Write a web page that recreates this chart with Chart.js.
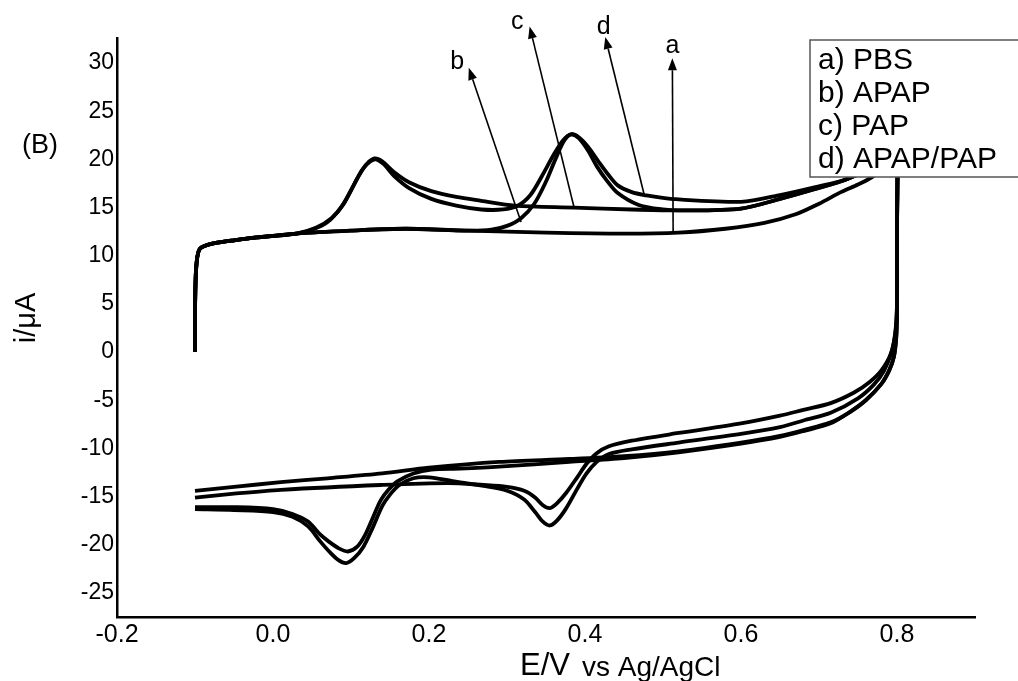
<!DOCTYPE html>
<html>
<head>
<meta charset="utf-8">
<title>Cyclic voltammograms</title>
<script src="https://cdn.jsdelivr.net/npm/chart.js@4.4.0/dist/chart.umd.min.js"></script>
<style>
    body { margin: 0; background: #fff; }
    #wrap { width: 1018px; height: 681px; position: relative; }
</style>
</head>
<body>
<div id="wrap"><canvas id="cvChart"></canvas></div>
<script>
// Axis ticks
const xTickValues = [-0.2, 0.0, 0.2, 0.4, 0.6, 0.8];
const xTickLabels = ['-0.2', '0.0', '0.2', '0.4', '0.6', '0.8'];
const yTickValues = [-25, -20, -15, -10, -5, 0, 5, 10, 15, 20, 25, 30];

// a) PBS - potential (V) and current (uA), forward then reverse scan
const pbsE = [-0.100, -0.100, -0.099, -0.097, -0.094, -0.088, -0.075, -0.050, -0.020, 0.030, 0.100, 0.170, 0.250, 0.350, 0.450, 0.520, 0.580, 0.630, 0.670, 0.700, 0.728, 0.750, 0.767, 0.785, 0.795, 0.800,
    0.800, 0.800, 0.799, 0.796, 0.790, 0.780, 0.760, 0.740, 0.715, 0.680, 0.650, 0.600, 0.520, 0.450, 0.380, 0.290, 0.200, 0.140, 0.070, 0.010, -0.050, -0.100];
const pbsI = [0.0, 4.0, 8.0, 9.9, 10.7, 11.0, 11.3, 11.6, 11.9, 12.3, 12.6, 12.8, 12.6, 12.4, 12.3, 12.4, 12.8, 13.4, 14.3, 15.4, 16.6, 17.4, 18.1, 19.3, 21.0, 25.0,
    12.0, 4.0, 1.5, -0.5, -1.9, -3.3, -5.0, -6.2, -7.3, -8.1, -8.7, -9.4, -10.3, -10.8, -11.1, -11.4, -12.0, -12.6, -13.1, -13.5, -14.0, -14.4];

// b) APAP
const apapE = [-0.100, -0.100, -0.099, -0.097, -0.094, -0.088, -0.075, -0.050, -0.020, 0.030, 0.100, 0.170, 0.250, 0.280, 0.300, 0.318, 0.335, 0.350, 0.362, 0.373, 0.382, 0.392, 0.404, 0.415, 0.428, 0.442, 0.468, 0.500, 0.523, 0.600, 0.650, 0.694, 0.737, 0.770, 0.790, 0.800,
    0.800, 0.800, 0.798, 0.792, 0.780, 0.765, 0.745, 0.715, 0.680, 0.650, 0.600, 0.520, 0.460, 0.430, 0.415, 0.402, 0.390, 0.376, 0.364, 0.355, 0.346, 0.336, 0.322, 0.300, 0.270, 0.224, 0.138, 0.010, -0.050, -0.100];
const apapI = [0.0, 4.0, 8.0, 9.9, 10.7, 11.0, 11.3, 11.6, 11.9, 12.3, 12.6, 12.8, 12.6, 12.7, 13.1, 13.9, 15.4, 17.7, 20.0, 21.9, 22.6, 22.2, 20.9, 19.3, 17.8, 16.5, 15.3, 14.8, 14.7, 14.9, 15.9, 16.9, 18.0, 19.4, 21.5, 25.0,
    12.0, 5.0, 2.0, -0.2, -1.9, -3.1, -4.2, -5.3, -6.0, -6.6, -7.4, -8.4, -9.2, -9.8, -10.5, -11.6, -13.0, -14.6, -15.7, -16.2, -15.9, -15.1, -14.4, -14.0, -13.8, -13.6, -13.8, -14.3, -14.7, -15.1];

// c) PAP
const papE = [-0.100, -0.100, -0.099, -0.097, -0.094, -0.088, -0.075, -0.050, -0.020, 0.030, 0.050, 0.070, 0.087, 0.100, 0.110, 0.120, 0.130, 0.140, 0.155, 0.175, 0.203, 0.235, 0.267, 0.310, 0.386, 0.460, 0.523, 0.600, 0.650, 0.694, 0.737, 0.770, 0.790, 0.800,
    0.800, 0.800, 0.799, 0.796, 0.790, 0.780, 0.760, 0.740, 0.715, 0.680, 0.650, 0.600, 0.520, 0.450, 0.380, 0.290, 0.240, 0.203, 0.180, 0.160, 0.148, 0.138, 0.128, 0.118, 0.108, 0.096, 0.085, 0.072, 0.060, 0.045, 0.025, 0.000, -0.050, -0.100];
const papI = [0.0, 4.0, 8.0, 9.9, 10.7, 11.0, 11.3, 11.6, 11.9, 12.3, 12.7, 13.5, 15.0, 16.8, 18.3, 19.5, 20.1, 19.8, 18.7, 17.6, 16.7, 16.1, 15.7, 15.2, 15.0, 14.8, 14.7, 14.9, 15.9, 16.9, 18.0, 19.4, 21.5, 25.0,
    12.0, 4.0, 1.5, -0.5, -1.9, -3.3, -5.0, -6.2, -7.4, -8.2, -8.8, -9.5, -10.4, -11.0, -11.4, -11.9, -12.1, -12.2, -12.6, -13.4, -14.3, -15.4, -17.2, -19.0, -20.2, -20.7, -20.4, -19.7, -18.9, -17.6, -16.8, -16.3, -16.1, -16.1];

// d) APAP/PAP
const mixE = [-0.100, -0.100, -0.099, -0.097, -0.094, -0.088, -0.075, -0.050, -0.020, 0.030, 0.055, 0.075, 0.090, 0.104, 0.115, 0.125, 0.132, 0.142, 0.155, 0.175, 0.203, 0.235, 0.267, 0.295, 0.314, 0.330, 0.345, 0.360, 0.372, 0.382, 0.392, 0.404, 0.418, 0.430, 0.442, 0.460, 0.476, 0.510, 0.600, 0.650, 0.694, 0.737, 0.770, 0.790, 0.800,
    0.800, 0.800, 0.798, 0.793, 0.783, 0.770, 0.750, 0.715, 0.680, 0.650, 0.600, 0.520, 0.460, 0.430, 0.415, 0.402, 0.390, 0.376, 0.364, 0.355, 0.346, 0.336, 0.322, 0.300, 0.270, 0.230, 0.200, 0.180, 0.162, 0.150, 0.140, 0.128, 0.116, 0.104, 0.094, 0.084, 0.072, 0.060, 0.045, 0.025, 0.000, -0.050, -0.100];
const mixI = [0.0, 4.0, 8.0, 9.9, 10.7, 11.0, 11.3, 11.6, 11.9, 12.3, 12.9, 13.9, 15.3, 17.4, 19.0, 19.8, 20.0, 19.5, 18.3, 17.0, 15.9, 15.2, 14.8, 14.8, 15.2, 16.3, 18.3, 20.5, 22.0, 22.6, 22.3, 21.3, 19.7, 18.4, 17.3, 16.6, 16.3, 15.9, 15.6, 16.3, 17.1, 18.0, 19.5, 21.6, 25.0,
    12.0, 5.0, 2.2, 0.0, -2.0, -3.4, -4.8, -6.3, -7.1, -7.8, -8.5, -9.4, -10.1, -10.6, -11.4, -12.6, -14.2, -16.2, -17.5, -18.0, -17.6, -16.6, -15.3, -14.4, -13.9, -13.4, -13.0, -13.1, -13.8, -14.8, -16.0, -18.2, -20.2, -21.4, -21.9, -21.6, -20.7, -19.6, -18.1, -17.1, -16.6, -16.4, -16.3];

// Curve labels and the arrows pointing at them (data coordinates)
const seriesNames = ['a) PBS', 'b) APAP', 'c) PAP', 'd) APAP/PAP'];
const arrowLetters = ['a', 'b', 'c', 'd'];
const arrowTailE = [0.513, 0.318, 0.386, 0.476];
const arrowTailI = [12.4, 13.5, 15.0, 16.3];
const arrowHeadE = [0.512, 0.251, 0.329, 0.426];
const arrowHeadI = [30.5, 29.5, 33.8, 32.7];
const letterE = [0.512, 0.236, 0.313, 0.424];
const letterI = [31.8, 30.1, 34.2, 33.7];

const FONT = "'Liberation Sans', Arial, sans-serif";
Chart.defaults.font.family = FONT;
Chart.defaults.color = '#000';

function toPoints(es, is) {
    return es.map((e, i) => ({ x: e, y: is[i] }));
}

function curve(label, es, is) {
    return {
        label: label,
        data: toPoints(es, is),
        showLine: true,
        borderColor: '#000',
        borderWidth: 3.8,
        pointRadius: 0,
        tension: 0.3,
        fill: false
    };
}

function drawArrow(ctx, x0, y0, x1, y1) {
    const ang = Math.atan2(y1 - y0, x1 - x0);
    const len = 12, half = 4.5;
    const bx = x1 - len * Math.cos(ang), by = y1 - len * Math.sin(ang);
    ctx.beginPath();
    ctx.moveTo(x0, y0);
    ctx.lineTo(bx, by);
    ctx.stroke();
    ctx.beginPath();
    ctx.moveTo(x1, y1);
    ctx.lineTo(bx + half * Math.sin(ang), by - half * Math.cos(ang));
    ctx.lineTo(bx - half * Math.sin(ang), by + half * Math.cos(ang));
    ctx.closePath();
    ctx.fill();
}

// Arrows, legend box and axis titles
const decorations = {
    id: 'decorations',
    afterDatasetsDraw(chart) {
        const { ctx, chartArea, scales: { x, y } } = chart;
        ctx.save();
        ctx.strokeStyle = '#000';
        ctx.fillStyle = '#000';
        ctx.lineWidth = 1.6;

        arrowLetters.forEach((letter, i) => {
            drawArrow(ctx,
                x.getPixelForValue(arrowTailE[i]), y.getPixelForValue(arrowTailI[i]),
                x.getPixelForValue(arrowHeadE[i]), y.getPixelForValue(arrowHeadI[i]));
            ctx.font = '25px ' + FONT;
            ctx.textAlign = 'center';
            ctx.textBaseline = 'middle';
            ctx.fillText(letter, x.getPixelForValue(letterE[i]), y.getPixelForValue(letterI[i]));
        });

        // legend box, open to the right edge
        const lx = 810, ly = chartArea.top + 2, lh = 137;
        ctx.fillStyle = '#fff';
        ctx.fillRect(lx, ly, chart.width - lx + 10, lh);
        ctx.strokeStyle = '#555';
        ctx.lineWidth = 1.5;
        ctx.strokeRect(lx, ly, chart.width - lx + 10, lh);
        ctx.fillStyle = '#000';
        ctx.font = '30px ' + FONT;
        ctx.textAlign = 'left';
        ctx.textBaseline = 'middle';
        seriesNames.forEach((name, i) => {
            ctx.fillText(name, lx + 8, ly + 21 + i * 33);
        });

        // x title
        ctx.textBaseline = 'alphabetic';
        ctx.font = '31px ' + FONT;
        ctx.fillText('E/V', 520, 675);
        ctx.font = '28px ' + FONT;
        ctx.fillText('vs Ag/AgCl', 582, 676);

        // y title
        ctx.save();
        ctx.translate(27, 318);
        ctx.rotate(-Math.PI / 2);
        ctx.font = '29px ' + FONT;
        ctx.textAlign = 'center';
        ctx.textBaseline = 'middle';
        ctx.fillText('i/\u03bcA', 0, 0);
        ctx.restore();

        // panel tag
        ctx.font = '27px ' + FONT;
        ctx.textAlign = 'center';
        ctx.textBaseline = 'middle';
        ctx.fillText('(B)', 40, 146);
        ctx.restore();
    }
};

const cvChart = new Chart(document.getElementById('cvChart'), {
    type: 'scatter',
    data: {
        datasets: [
            curve(seriesNames[0], pbsE, pbsI),
            curve(seriesNames[1], apapE, apapI),
            curve(seriesNames[2], papE, papI),
            curve(seriesNames[3], mixE, mixI)
        ]
    },
    options: {
        responsive: true,
        maintainAspectRatio: false,
        animation: false,
        layout: { padding: { top: 38, right: 43, left: 0, bottom: 0 } },
        plugins: {
            legend: { display: false },
            tooltip: { enabled: false }
        },
        scales: {
            x: {
                type: 'linear',
                min: -0.2,
                max: 0.9,
                afterBuildTicks: axis => { axis.ticks = xTickValues.map(v => ({ value: v })); },
                afterFit: axis => { axis.height = 64; },
                grid: { display: false, drawTicks: false },
                border: { display: true, color: '#000', width: 2.5 },
                ticks: {
                    padding: 3,
                    maxRotation: 0,
                    autoSkip: false,
                    font: { size: 25 },
                    callback: (value, index) => xTickLabels[index]
                }
            },
            y: {
                type: 'linear',
                min: -27.5,
                max: 32.6,
                afterBuildTicks: axis => { axis.ticks = yTickValues.map(v => ({ value: v })); },
                afterFit: axis => { axis.width = 117; },
                grid: { display: false, drawTicks: false },
                border: { display: true, color: '#000', width: 2.5 },
                ticks: {
                    padding: 3,
                    autoSkip: false,
                    font: { size: 23 },
                    callback: value => String(value)
                }
            }
        }
    },
    plugins: [decorations]
});
</script>
</body>
</html>
